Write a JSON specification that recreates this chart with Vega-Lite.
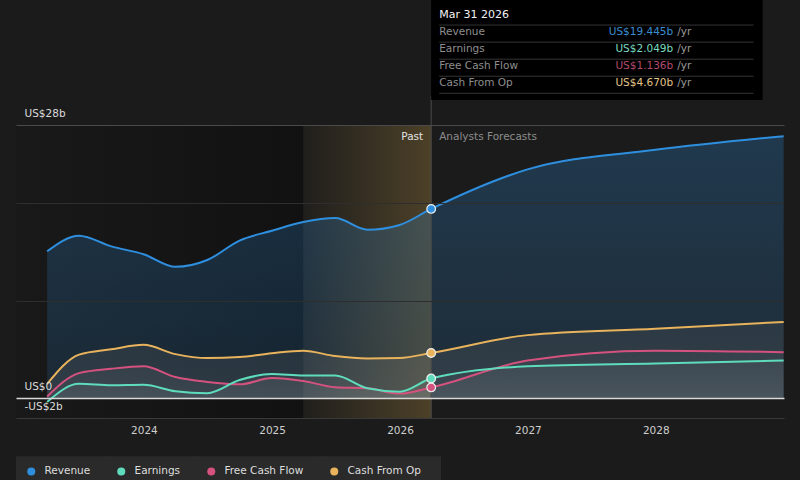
{
  "$schema": "https://vega.github.io/schema/vega-lite/v6.json",
  "width": 768,
  "height": 418,
  "autosize": "none",
  "padding": {"left": 16, "right": 16, "top": 0, "bottom": 62},
  "background": "#1b1b1b",
  "config": {
    "view": {"stroke": null},
    "font": "DejaVu Sans",
    "text": {"font": "DejaVu Sans"}
  },
  "datasets": {
    "fin": [
      {"date": "2023-03-31", "revenue": 15.1, "earnings": -0.35, "fcf": 0.2, "cfo": 1.5},
      {"date": "2023-06-30", "revenue": 16.7, "earnings": 1.5, "fcf": 2.6, "cfo": 4.5},
      {"date": "2023-09-30", "revenue": 15.6, "earnings": 1.35, "fcf": 3.05, "cfo": 5.05},
      {"date": "2023-12-31", "revenue": 14.8, "earnings": 1.4, "fcf": 3.3, "cfo": 5.5},
      {"date": "2024-03-31", "revenue": 13.5, "earnings": 0.75, "fcf": 2.2, "cfo": 4.55},
      {"date": "2024-06-30", "revenue": 14.2, "earnings": 0.55, "fcf": 1.7, "cfo": 4.15},
      {"date": "2024-09-30", "revenue": 16.2, "earnings": 1.9, "fcf": 1.45, "cfo": 4.25},
      {"date": "2024-12-31", "revenue": 17.2, "earnings": 2.5, "fcf": 2.1, "cfo": 4.65},
      {"date": "2025-03-31", "revenue": 18.1, "earnings": 2.35, "fcf": 1.8, "cfo": 4.9},
      {"date": "2025-06-30", "revenue": 18.5, "earnings": 2.35, "fcf": 1.15, "cfo": 4.35},
      {"date": "2025-09-30", "revenue": 17.3, "earnings": 1.05, "fcf": 1.05, "cfo": 4.1},
      {"date": "2025-12-31", "revenue": 17.8, "earnings": 0.7, "fcf": 0.5, "cfo": 4.15},
      {"date": "2026-03-31", "revenue": 19.445, "earnings": 2.049, "fcf": 1.136, "cfo": 4.67},
      {"date": "2026-12-31", "revenue": 23.5, "earnings": 3.3, "fcf": 3.9, "cfo": 6.5},
      {"date": "2027-12-31", "revenue": 25.5, "earnings": 3.6, "fcf": 4.9, "cfo": 7.15},
      {"date": "2028-12-31", "revenue": 26.9, "earnings": 3.9, "fcf": 4.75, "cfo": 7.85}
    ],
    "tip": [
      {"item": "Mar 31 2026", "amount": ""},
      {"item": "Revenue", "amount": "US$19.445b"},
      {"item": "Earnings", "amount": "US$2.049b"},
      {"item": "Free Cash Flow", "amount": "US$1.136b"},
      {"item": "Cash From Op", "amount": "US$4.670b"}
    ]
  },
  "resolve": {"scale": {"y": "independent"}},
  "layer": [
    {
      "layer": [
        {
          "data": {"values": [{}]},
          "mark": {"type": "rect", "fill": {"gradient": "linear", "x1": 0, "y1": 0, "x2": 1, "y2": 0, "stops": [{"offset": 0, "color": "rgba(0,0,0,0.08)"}, {"offset": 1, "color": "rgba(0,0,0,0.36)"}]}},
          "encoding": {
            "x": {"datum": {"year": 2023, "month": 1, "date": 1, "utc": true}, "type": "temporal", "scale": {"type": "utc", "domain": [{"year": 2023, "month": 1, "date": 1, "utc": true}, {"year": 2029, "month": 1, "date": 1, "utc": true}]}, "axis": {"values": [{"year": 2024, "month": 1, "date": 1, "utc": true}, {"year": 2025, "month": 1, "date": 1, "utc": true}, {"year": 2026, "month": 1, "date": 1, "utc": true}, {"year": 2027, "month": 1, "date": 1, "utc": true}, {"year": 2028, "month": 1, "date": 1, "utc": true}], "format": "%Y", "labelColor": "#cfcfcf", "labelFontSize": 10.5, "labelPadding": 7, "ticks": false, "domain": true, "domainColor": "#3a3a3a", "grid": false, "title": null}},
            "x2": {"datum": {"year": 2025, "month": 3, "date": 31, "utc": true}},
            "y": {"datum": 28, "type": "quantitative", "scale": {"domain": [-2, 40.87], "nice": false, "zero": false}, "axis": {"values": [-2, 0, 10, 20, 28], "labelExpr": "datum.value==28?'US$28b':datum.value==0?'US$0':datum.value==-2?'-US$2b':''", "labelAlign": "left", "labelBaseline": "middle", "labelPadding": -8, "labelOffset": -12, "tickSize": 0, "ticks": false, "domain": false, "grid": true, "gridColor": {"condition": [{"test": "datum.value==0", "value": "#d9d9d9"}, {"test": "datum.value==28", "value": "#4a4a4a"}], "value": "#2e2e2e"}, "gridWidth": {"condition": {"test": "datum.value==0", "value": 1.5}, "value": 1}, "gridOpacity": {"condition": {"test": "datum.value==-2", "value": 0}, "value": 1}, "labelColor": "#dcdcdc", "labelFontSize": 10.5, "title": null, "zindex": 1}},
            "y2": {"datum": -2}
          }
        },
        {
          "data": {"values": [{}]},
          "mark": {"type": "rect", "fill": {"gradient": "linear", "x1": 0, "y1": 0, "x2": 1, "y2": 0, "stops": [{"offset": 0, "color": "rgba(190,150,70,0.03)"}, {"offset": 1, "color": "rgba(190,150,70,0.3)"}]}},
          "encoding": {
            "x": {"datum": {"year": 2025, "month": 3, "date": 31, "utc": true}, "type": "temporal"},
            "x2": {"datum": {"year": 2026, "month": 3, "date": 31, "utc": true}},
            "y": {"datum": 28, "type": "quantitative"},
            "y2": {"datum": -2}
          }
        },
        {
          "data": {"name": "fin"},
          "mark": {"type": "area", "interpolate": "monotone", "fill": {"gradient": "linear", "x1": 0, "y1": 0, "x2": 0, "y2": 1, "stops": [{"offset": 0, "color": "rgba(47,143,223,0.26)"}, {"offset": 1, "color": "rgba(47,143,223,0.14)"}]}},
          "encoding": {
            "x": {"field": "date", "type": "temporal"},
            "y": {"field": "revenue", "type": "quantitative"},
            "y2": {"datum": 0}
          }
        },
        {
          "data": {"name": "fin"},
          "mark": {"type": "area", "interpolate": "monotone", "fill": {"gradient": "linear", "x1": 0, "y1": 0, "x2": 0, "y2": 1, "stops": [{"offset": 0, "color": "rgba(220,195,160,0.07)"}, {"offset": 1, "color": "rgba(220,220,220,0.11)"}]}},
          "encoding": {
            "x": {"field": "date", "type": "temporal"},
            "y": {"field": "cfo", "type": "quantitative"},
            "y2": {"datum": 0}
          }
        },
        {
          "data": {"name": "fin"},
          "mark": {"type": "area", "interpolate": "monotone", "fill": {"gradient": "linear", "x1": 0, "y1": 0, "x2": 0, "y2": 1, "stops": [{"offset": 0, "color": "rgba(220,200,210,0.04)"}, {"offset": 1, "color": "rgba(220,220,220,0.07)"}]}},
          "encoding": {
            "x": {"field": "date", "type": "temporal"},
            "y": {"field": "fcf", "type": "quantitative"},
            "y2": {"datum": 0}
          }
        },
        {
          "data": {"name": "fin"},
          "mark": {"type": "area", "interpolate": "monotone", "fill": {"gradient": "linear", "x1": 0, "y1": 0, "x2": 0, "y2": 1, "stops": [{"offset": 0, "color": "rgba(200,230,220,0.04)"}, {"offset": 1, "color": "rgba(220,220,220,0.07)"}]}},
          "encoding": {
            "x": {"field": "date", "type": "temporal"},
            "y": {"field": "earnings", "type": "quantitative"},
            "y2": {"datum": 0}
          }
        },
        {
          "data": {"name": "fin"},
          "mark": {"type": "line", "interpolate": "monotone", "strokeWidth": 2, "color": "#2f8fdf"},
          "encoding": {
            "x": {"field": "date", "type": "temporal"},
            "y": {"field": "revenue", "type": "quantitative"}
          }
        },
        {
          "data": {"name": "fin"},
          "mark": {"type": "line", "interpolate": "monotone", "strokeWidth": 2, "color": "#e8b35c"},
          "encoding": {
            "x": {"field": "date", "type": "temporal"},
            "y": {"field": "cfo", "type": "quantitative"}
          }
        },
        {
          "data": {"name": "fin"},
          "mark": {"type": "line", "interpolate": "monotone", "strokeWidth": 2, "color": "#d5527f"},
          "encoding": {
            "x": {"field": "date", "type": "temporal"},
            "y": {"field": "fcf", "type": "quantitative"}
          }
        },
        {
          "data": {"name": "fin"},
          "mark": {"type": "line", "interpolate": "monotone", "strokeWidth": 2, "color": "#5fdcbc"},
          "encoding": {
            "x": {"field": "date", "type": "temporal"},
            "y": {"field": "earnings", "type": "quantitative"}
          }
        },
        {
          "data": {"values": [{}]},
          "mark": {"type": "rule", "color": "#4a4a4a", "strokeWidth": 1},
          "encoding": {
            "x": {"datum": {"year": 2026, "month": 3, "date": 31, "utc": true}, "type": "temporal"},
            "y": {"datum": -2, "type": "quantitative"},
            "y2": {"datum": 31}
          }
        },
        {
          "data": {"name": "fin"},
          "transform": [{"filter": {"field": "date", "equal": {"year": 2026, "month": 3, "date": 31, "utc": true}}}],
          "mark": {"type": "point", "filled": true, "size": 75, "stroke": "#eeeeee", "strokeWidth": 1.2, "opacity": 1},
          "encoding": {
            "x": {"field": "date", "type": "temporal"},
            "y": {"field": "revenue", "type": "quantitative"},
            "color": {"datum": "Revenue", "type": "nominal", "scale": {"domain": ["Revenue", "Earnings", "Free Cash Flow", "Cash From Op"], "range": ["#2f8fdf", "#5fdcbc", "#d5527f", "#e8b35c"]}, "legend": {"title": null, "orient": "none", "legendX": 10, "legendY": 466, "direction": "horizontal", "symbolType": "circle", "symbolSize": 64, "symbolStrokeWidth": 0, "labelColor": "#dedede", "labelFontSize": 10.5, "labelFont": "DejaVu Sans", "labelOffset": 8, "columnPadding": 6, "padding": 0, "encoding": {"entries": {"fill": {"value": "#2a2a2a"}, "stroke": {"value": "#2a2a2a"}, "strokeWidth": {"value": 20}, "strokeJoin": {"value": "miter"}, "width": {"signal": "datum.value=='Revenue'?63:datum.value=='Earnings'?64:datum.value=='Free Cash Flow'?97:92"}, "height": {"value": 30}}, "symbols": {"stroke": {"value": "transparent"}}}}}
          }
        },
        {
          "data": {"name": "fin"},
          "transform": [{"filter": {"field": "date", "equal": {"year": 2026, "month": 3, "date": 31, "utc": true}}}],
          "mark": {"type": "point", "filled": true, "size": 75, "stroke": "#eeeeee", "strokeWidth": 1.2, "opacity": 1},
          "encoding": {
            "x": {"field": "date", "type": "temporal"},
            "y": {"field": "earnings", "type": "quantitative"},
            "color": {"datum": "Earnings", "type": "nominal"}
          }
        },
        {
          "data": {"name": "fin"},
          "transform": [{"filter": {"field": "date", "equal": {"year": 2026, "month": 3, "date": 31, "utc": true}}}],
          "mark": {"type": "point", "filled": true, "size": 75, "stroke": "#eeeeee", "strokeWidth": 1.2, "opacity": 1},
          "encoding": {
            "x": {"field": "date", "type": "temporal"},
            "y": {"field": "fcf", "type": "quantitative"},
            "color": {"datum": "Free Cash Flow", "type": "nominal"}
          }
        },
        {
          "data": {"name": "fin"},
          "transform": [{"filter": {"field": "date", "equal": {"year": 2026, "month": 3, "date": 31, "utc": true}}}],
          "mark": {"type": "point", "filled": true, "size": 75, "stroke": "#eeeeee", "strokeWidth": 1.2, "opacity": 1},
          "encoding": {
            "x": {"field": "date", "type": "temporal"},
            "y": {"field": "cfo", "type": "quantitative"},
            "color": {"datum": "Cash From Op", "type": "nominal"}
          }
        },
        {
          "data": {"values": [{"label": "Past"}]},
          "mark": {"type": "text", "align": "right", "baseline": "middle", "dx": -8, "fontSize": 10.5, "color": "#e2e2e2"},
          "encoding": {
            "x": {"datum": {"year": 2026, "month": 3, "date": 31, "utc": true}, "type": "temporal"},
            "y": {"datum": 26.82, "type": "quantitative"},
            "text": {"field": "label"}
          }
        },
        {
          "data": {"values": [{"label": "Analysts Forecasts"}]},
          "mark": {"type": "text", "align": "left", "baseline": "middle", "dx": 8, "fontSize": 10.5, "color": "#8c8c8c"},
          "encoding": {
            "x": {"datum": {"year": 2026, "month": 3, "date": 31, "utc": true}, "type": "temporal"},
            "y": {"datum": 26.82, "type": "quantitative"},
            "text": {"field": "label"}
          }
        },
        {
          "data": {"values": [{}]},
          "mark": {"type": "rect", "fill": "#000000"},
          "encoding": {
            "x": {"datum": {"year": 2026, "month": 3, "date": 31, "utc": true}, "type": "temporal"},
            "x2": {"datum": {"year": 2028, "month": 11, "date": 1, "utc": true}},
            "y": {"datum": 40.87, "type": "quantitative"},
            "y2": {"datum": 30.614}
          }
        }
      ]
    },
    {
      "data": {"name": "tip"},
      "layer": [
        {
          "mark": {"type": "rule", "color": "#343434", "strokeWidth": 1},
          "encoding": {
            "x": {"datum": {"year": 2026, "month": 4, "date": 23, "utc": true}, "type": "temporal"},
            "x2": {"datum": {"year": 2028, "month": 10, "date": 6, "utc": true}},
            "y": {"field": "item", "type": "nominal", "bandPosition": 1, "scale": {"type": "band", "domain": ["Mar 31 2026", "Revenue", "Earnings", "Free Cash Flow", "Cash From Op"], "range": [8, 93.3], "paddingInner": 0, "paddingOuter": 0}, "axis": null}
          }
        },
        {
          "mark": {"type": "text", "align": "left", "baseline": "middle", "dx": 8, "dy": -1.5},
          "encoding": {
            "x": {"datum": {"year": 2026, "month": 3, "date": 31, "utc": true}, "type": "temporal"},
            "y": {"field": "item", "type": "nominal"},
            "text": {"field": "item"},
            "size": {"condition": {"test": "datum.amount==''", "value": 11}, "value": 10.5},
            "color": {"condition": {"test": "datum.amount==''", "value": "#f2f2f2"}, "value": "#8e8e8e"}
          }
        },
        {
          "mark": {"type": "text", "align": "right", "baseline": "middle", "dx": 242, "dy": -1.5, "fontSize": 10.5},
          "encoding": {
            "x": {"datum": {"year": 2026, "month": 3, "date": 31, "utc": true}, "type": "temporal"},
            "y": {"field": "item", "type": "nominal"},
            "text": {"field": "amount"},
            "color": {"condition": [{"test": "datum.item=='Revenue'", "value": "#3b8dd0"}, {"test": "datum.item=='Earnings'", "value": "#7ad8bf"}, {"test": "datum.item=='Free Cash Flow'", "value": "#b34a6d"}], "value": "#e3c387"}
          }
        },
        {
          "transform": [{"filter": "datum.amount != ''"}],
          "mark": {"type": "text", "align": "left", "baseline": "middle", "dx": 246, "dy": -1.5, "fontSize": 10.5, "color": "#9a9a9a"},
          "encoding": {
            "x": {"datum": {"year": 2026, "month": 3, "date": 31, "utc": true}, "type": "temporal"},
            "y": {"field": "item", "type": "nominal"},
            "text": {"value": "/yr"}
          }
        }
      ]
    }
  ]
}
